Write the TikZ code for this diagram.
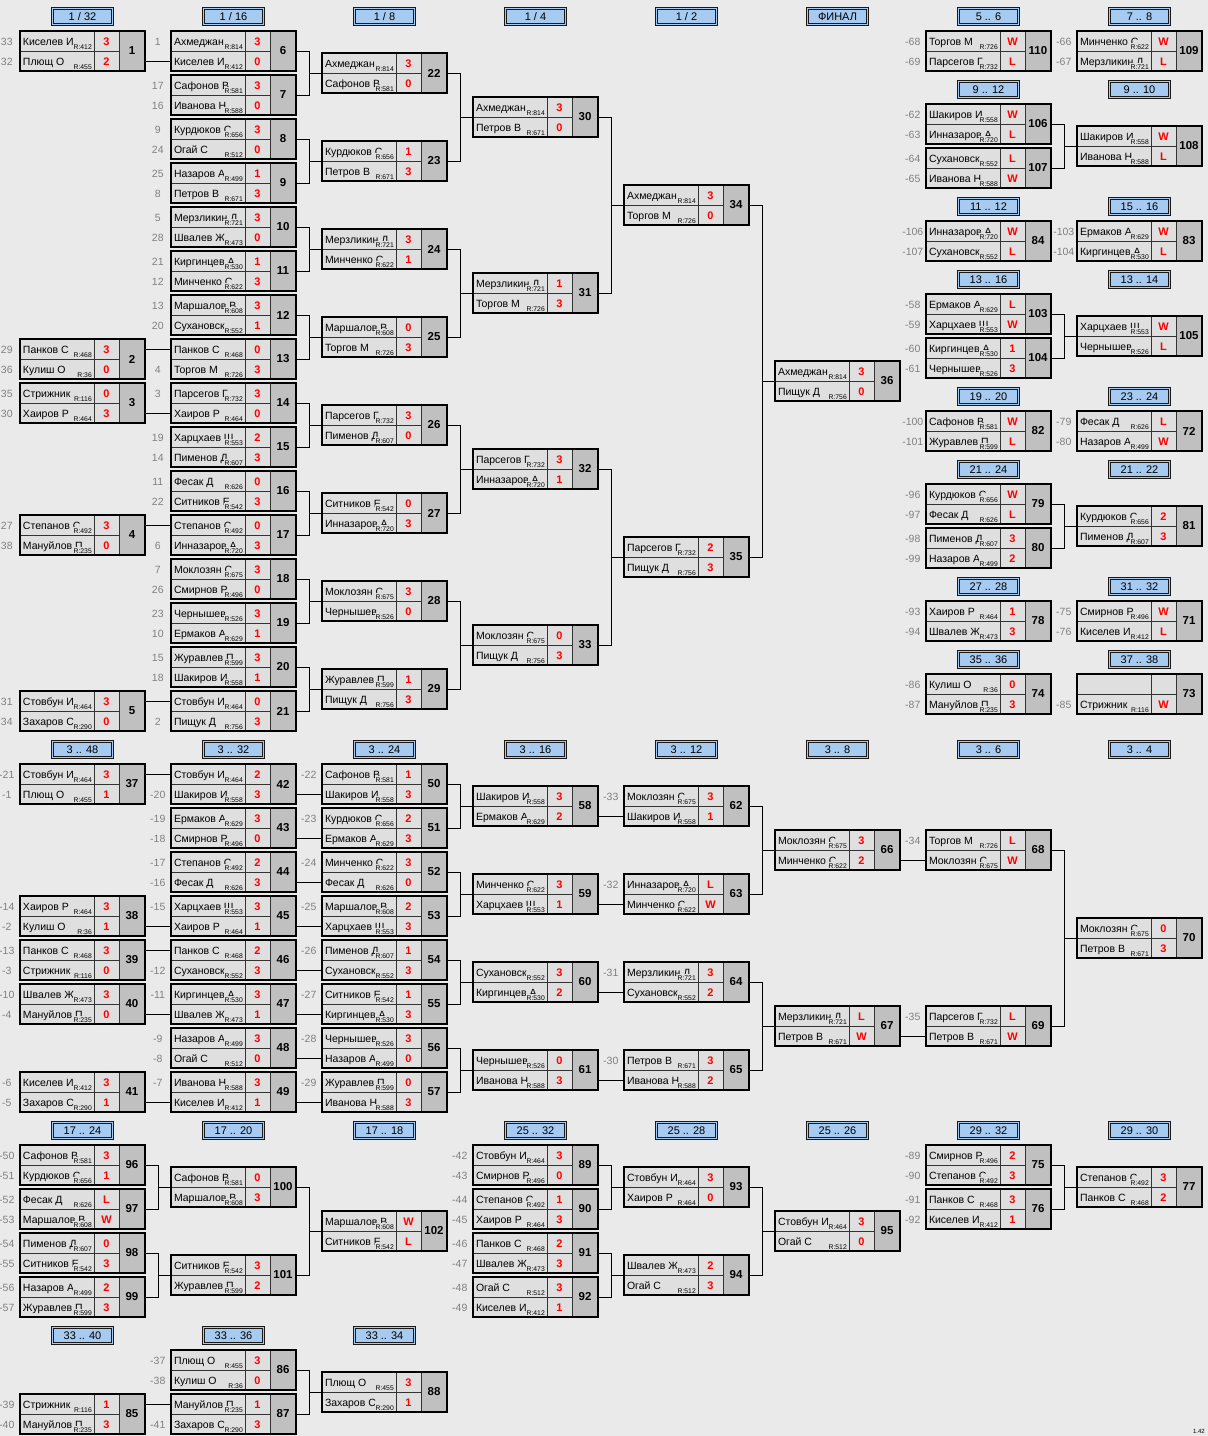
\documentclass[tikz,border=0pt]{standalone}
\usepackage{fontspec}
\setmainfont{Liberation Sans}
\definecolor{bgc}{HTML}{EAEAEA}
\definecolor{cellc}{HTML}{DFDFDF}
\definecolor{numc}{HTML}{C0C0C0}
\definecolor{hblue}{HTML}{A6CAF0}
\definecolor{seedc}{HTML}{808080}
\tikzset{
  gbox/.style={anchor=north west, minimum width=125pt, minimum height=40pt, inner sep=0pt, outer sep=0pt},
  gframe/.style={draw=black, line width=2pt},
  pname/.style={anchor=north west, draw=black!80, line width=0.6pt, fill=cellc, minimum width=74pt, minimum height=20pt, inner xsep=3pt, inner ysep=0pt, outer sep=0pt, text height=10pt, text depth=0.6pt, font=\fontsize{10.5}{12}\selectfont},
  prate/.style={anchor=south east, fill=cellc, inner xsep=1pt, inner ysep=0.8pt, text height=5pt, text depth=0pt, font=\fontsize{6.8}{7}\selectfont},
  pscore/.style={anchor=north west, draw=black!80, line width=0.6pt, fill=cellc, minimum width=25pt, minimum height=20pt, inner sep=0pt, outer sep=0pt, text height=10pt, text depth=0.6pt, text=red, font=\fontsize{11}{12}\selectfont\bfseries},
  pseed/.style={anchor=east, minimum width=24pt, inner sep=0pt, text height=10pt, text depth=0.6pt, text=seedc, font=\fontsize{10.5}{12}\selectfont},
  gnum/.style={anchor=north east, draw=black!80, line width=0.6pt, fill=numc, minimum width=26pt, minimum height=40pt, inner sep=0pt, outer sep=0pt, font=\fontsize{11.5}{13}\selectfont\bfseries},
  hdr/.style={draw=black!90, double=hblue, double distance=1.1pt, line width=0.9pt, fill=hblue, minimum width=60pt, minimum height=16pt, inner sep=0pt, font=\fontsize{11}{13}\selectfont},
  conn/.style={draw=black, line width=1pt},
}
% one player row: id, row, anchor, seed, name, rating, score
\newcommand{\prow}[7]{%
  \node[pname] (g#1#2) at (g#1.#3) {\makebox[68pt][l]{#5}};
  \node[prate] (g#1#2r) at ([xshift=-1pt,yshift=0.8pt]g#1#2.south east) {\ifx\relax#6\relax\else R:#6\fi};
  \node[pscore] (g#1#2s) at (g#1#2.north east) {#7};
  \node[pseed] (g#1#2k) at ([xshift=-1pt]g#1#2.west) {#4};
}
% one match: id, x, y, top row, bottom row
\newcommand{\game}[5]{%
  \node[gbox] (g#1) at (#2,#3) {};
  \prow{#1}{a}{north west}#4
  \prow{#1}{b}{west}#5
  \node[gnum] (g#1n) at (g#1.north east) {#1};
  \draw[gframe] (g#1.north west) rectangle (g#1.south east);
}
\begin{document}
\begin{tikzpicture}[x=1pt,y=-1pt]
\useasboundingbox (0,0) rectangle (1208,1436);
\fill[bgc] (0,0) rectangle (1208,1436);

\node[hdr] (s1) at (82.5,16.5) {1 / 32};
\node[hdr] (s2) at (233.5,16.5) {1 / 16};
\node[hdr] (s3) at (384.5,16.5) {1 / 8};
\node[hdr] (s4) at (535.5,16.5) {1 / 4};
\node[hdr] (s5) at (686.5,16.5) {1 / 2};
\node[hdr] (s6) at (837.5,16.5) {ФИНАЛ};
\foreach \x/\y/\t [count=\i] in {988.5/16.5/{5 .. 6}, 1139.5/16.5/{7 .. 8}, 988.5/89.5/{9 .. 12}, 1139.5/89.5/{9 .. 10},
    988.5/206.5/{11 .. 12}, 1139.5/206.5/{15 .. 16}, 988.5/279.5/{13 .. 16}, 1139.5/279.5/{13 .. 14},
    988.5/396.5/{19 .. 20}, 1139.5/396.5/{23 .. 24}, 988.5/469.5/{21 .. 24}, 1139.5/469.5/{21 .. 22},
    988.5/586.5/{27 .. 28}, 1139.5/586.5/{31 .. 32}, 988.5/659.5/{35 .. 36}, 1139.5/659.5/{37 .. 38},
    82.5/749.5/{3 .. 48}, 233.5/749.5/{3 .. 32}, 384.5/749.5/{3 .. 24}, 535.5/749.5/{3 .. 16},
    686.5/749.5/{3 .. 12}, 837.5/749.5/{3 .. 8}, 988.5/749.5/{3 .. 6}, 1139.5/749.5/{3 .. 4},
    82.5/1130.5/{17 .. 24}, 233.5/1130.5/{17 .. 20}, 384.5/1130.5/{17 .. 18}, 535.5/1130.5/{25 .. 32},
    686.5/1130.5/{25 .. 28}, 837.5/1130.5/{25 .. 26}, 988.5/1130.5/{29 .. 32}, 1139.5/1130.5/{29 .. 30},
    82.5/1335.5/{33 .. 40}, 233.5/1335.5/{33 .. 36}, 384.5/1335.5/{33 .. 34}}
  \node[hdr] (r\i) at (\x,\y) {\t};

\game{1}{20}{31}{{33}{Киселев И}{412}{3}}{{32}{Плющ О}{455}{2}}
\game{2}{20}{339}{{29}{Панков С}{468}{3}}{{36}{Кулиш О}{36}{0}}
\game{3}{20}{383}{{35}{Стрижник}{116}{0}}{{30}{Хаиров Р}{464}{3}}
\game{4}{20}{515}{{27}{Степанов С}{492}{3}}{{38}{Мануйлов П}{235}{0}}
\game{5}{20}{691}{{31}{Стовбун И}{464}{3}}{{34}{Захаров С}{290}{0}}
\game{6}{171}{31}{{1}{Ахмеджан}{814}{3}}{{}{Киселев И}{412}{0}}
\game{7}{171}{75}{{17}{Сафонов В}{581}{3}}{{16}{Иванова Н}{588}{0}}
\game{8}{171}{119}{{9}{Курдюков С}{656}{3}}{{24}{Огай С}{512}{0}}
\game{9}{171}{163}{{25}{Назаров А}{499}{1}}{{8}{Петров В}{671}{3}}
\game{10}{171}{207}{{5}{Мерзликин Д}{721}{3}}{{28}{Швалев Ж}{473}{0}}
\game{11}{171}{251}{{21}{Киргинцев А}{530}{1}}{{12}{Минченко С}{622}{3}}
\game{12}{171}{295}{{13}{Маршалов В}{608}{3}}{{20}{Сухановск}{552}{1}}
\game{13}{171}{339}{{}{Панков С}{468}{0}}{{4}{Торгов М}{726}{3}}
\game{14}{171}{383}{{3}{Парсегов Г}{732}{3}}{{}{Хаиров Р}{464}{0}}
\game{15}{171}{427}{{19}{Харцхаев Ш}{553}{2}}{{14}{Пименов Д}{607}{3}}
\game{16}{171}{471}{{11}{Фесак Д}{626}{0}}{{22}{Ситников Е}{542}{3}}
\game{17}{171}{515}{{}{Степанов С}{492}{0}}{{6}{Инназаров А}{720}{3}}
\game{18}{171}{559}{{7}{Моклозян С}{675}{3}}{{26}{Смирнов Р}{496}{0}}
\game{19}{171}{603}{{23}{Чернышев}{526}{3}}{{10}{Ермаков А}{629}{1}}
\game{20}{171}{647}{{15}{Журавлев П}{599}{3}}{{18}{Шакиров И}{558}{1}}
\game{21}{171}{691}{{}{Стовбун И}{464}{0}}{{2}{Пищук Д}{756}{3}}
\game{22}{322}{53}{{}{Ахмеджан}{814}{3}}{{}{Сафонов В}{581}{0}}
\game{23}{322}{141}{{}{Курдюков С}{656}{1}}{{}{Петров В}{671}{3}}
\game{24}{322}{229}{{}{Мерзликин Д}{721}{3}}{{}{Минченко С}{622}{1}}
\game{25}{322}{317}{{}{Маршалов В}{608}{0}}{{}{Торгов М}{726}{3}}
\game{26}{322}{405}{{}{Парсегов Г}{732}{3}}{{}{Пименов Д}{607}{0}}
\game{27}{322}{493}{{}{Ситников Е}{542}{0}}{{}{Инназаров А}{720}{3}}
\game{28}{322}{581}{{}{Моклозян С}{675}{3}}{{}{Чернышев}{526}{0}}
\game{29}{322}{669}{{}{Журавлев П}{599}{1}}{{}{Пищук Д}{756}{3}}
\game{30}{473}{97}{{}{Ахмеджан}{814}{3}}{{}{Петров В}{671}{0}}
\game{31}{473}{273}{{}{Мерзликин Д}{721}{1}}{{}{Торгов М}{726}{3}}
\game{32}{473}{449}{{}{Парсегов Г}{732}{3}}{{}{Инназаров А}{720}{1}}
\game{33}{473}{625}{{}{Моклозян С}{675}{0}}{{}{Пищук Д}{756}{3}}
\game{34}{624}{185}{{}{Ахмеджан}{814}{3}}{{}{Торгов М}{726}{0}}
\game{35}{624}{537}{{}{Парсегов Г}{732}{2}}{{}{Пищук Д}{756}{3}}
\game{36}{775}{361}{{}{Ахмеджан}{814}{3}}{{}{Пищук Д}{756}{0}}

\game{110}{926}{31}{{-68}{Торгов М}{726}{W}}{{-69}{Парсегов Г}{732}{L}}
\game{109}{1077}{31}{{-66}{Минченко С}{622}{W}}{{-67}{Мерзликин Д}{721}{L}}
\game{106}{926}{104}{{-62}{Шакиров И}{558}{W}}{{-63}{Инназаров А}{720}{L}}
\game{107}{926}{148}{{-64}{Сухановск}{552}{L}}{{-65}{Иванова Н}{588}{W}}
\game{108}{1077}{126}{{}{Шакиров И}{558}{W}}{{}{Иванова Н}{588}{L}}
\game{84}{926}{221}{{-106}{Инназаров А}{720}{W}}{{-107}{Сухановск}{552}{L}}
\game{83}{1077}{221}{{-103}{Ермаков А}{629}{W}}{{-104}{Киргинцев А}{530}{L}}
\game{103}{926}{294}{{-58}{Ермаков А}{629}{L}}{{-59}{Харцхаев Ш}{553}{W}}
\game{104}{926}{338}{{-60}{Киргинцев А}{530}{1}}{{-61}{Чернышев}{526}{3}}
\game{105}{1077}{316}{{}{Харцхаев Ш}{553}{W}}{{}{Чернышев}{526}{L}}
\game{82}{926}{411}{{-100}{Сафонов В}{581}{W}}{{-101}{Журавлев П}{599}{L}}
\game{72}{1077}{411}{{-79}{Фесак Д}{626}{L}}{{-80}{Назаров А}{499}{W}}
\game{79}{926}{484}{{-96}{Курдюков С}{656}{W}}{{-97}{Фесак Д}{626}{L}}
\game{80}{926}{528}{{-98}{Пименов Д}{607}{3}}{{-99}{Назаров А}{499}{2}}
\game{81}{1077}{506}{{}{Курдюков С}{656}{2}}{{}{Пименов Д}{607}{3}}
\game{78}{926}{601}{{-93}{Хаиров Р}{464}{1}}{{-94}{Швалев Ж}{473}{3}}
\game{71}{1077}{601}{{-75}{Смирнов Р}{496}{W}}{{-76}{Киселев И}{412}{L}}
\game{74}{926}{674}{{-86}{Кулиш О}{36}{0}}{{-87}{Мануйлов П}{235}{3}}
\game{73}{1077}{674}{{}{}{}{}}{{-85}{Стрижник}{116}{W}}

\game{37}{20}{764}{{-21}{Стовбун И}{464}{3}}{{-1}{Плющ О}{455}{1}}
\game{38}{20}{896}{{-14}{Хаиров Р}{464}{3}}{{-2}{Кулиш О}{36}{1}}
\game{39}{20}{940}{{-13}{Панков С}{468}{3}}{{-3}{Стрижник}{116}{0}}
\game{40}{20}{984}{{-10}{Швалев Ж}{473}{3}}{{-4}{Мануйлов П}{235}{0}}
\game{41}{20}{1072}{{-6}{Киселев И}{412}{3}}{{-5}{Захаров С}{290}{1}}
\game{42}{171}{764}{{}{Стовбун И}{464}{2}}{{-20}{Шакиров И}{558}{3}}
\game{43}{171}{808}{{-19}{Ермаков А}{629}{3}}{{-18}{Смирнов Р}{496}{0}}
\game{44}{171}{852}{{-17}{Степанов С}{492}{2}}{{-16}{Фесак Д}{626}{3}}
\game{45}{171}{896}{{-15}{Харцхаев Ш}{553}{3}}{{}{Хаиров Р}{464}{1}}
\game{46}{171}{940}{{}{Панков С}{468}{2}}{{-12}{Сухановск}{552}{3}}
\game{47}{171}{984}{{-11}{Киргинцев А}{530}{3}}{{}{Швалев Ж}{473}{1}}
\game{48}{171}{1028}{{-9}{Назаров А}{499}{3}}{{-8}{Огай С}{512}{0}}
\game{49}{171}{1072}{{-7}{Иванова Н}{588}{3}}{{}{Киселев И}{412}{1}}
\game{50}{322}{764}{{-22}{Сафонов В}{581}{1}}{{}{Шакиров И}{558}{3}}
\game{51}{322}{808}{{-23}{Курдюков С}{656}{2}}{{}{Ермаков А}{629}{3}}
\game{52}{322}{852}{{-24}{Минченко С}{622}{3}}{{}{Фесак Д}{626}{0}}
\game{53}{322}{896}{{-25}{Маршалов В}{608}{2}}{{}{Харцхаев Ш}{553}{3}}
\game{54}{322}{940}{{-26}{Пименов Д}{607}{1}}{{}{Сухановск}{552}{3}}
\game{55}{322}{984}{{-27}{Ситников Е}{542}{1}}{{}{Киргинцев А}{530}{3}}
\game{56}{322}{1028}{{-28}{Чернышев}{526}{3}}{{}{Назаров А}{499}{0}}
\game{57}{322}{1072}{{-29}{Журавлев П}{599}{0}}{{}{Иванова Н}{588}{3}}
\game{58}{473}{786}{{}{Шакиров И}{558}{3}}{{}{Ермаков А}{629}{2}}
\game{59}{473}{874}{{}{Минченко С}{622}{3}}{{}{Харцхаев Ш}{553}{1}}
\game{60}{473}{962}{{}{Сухановск}{552}{3}}{{}{Киргинцев А}{530}{2}}
\game{61}{473}{1050}{{}{Чернышев}{526}{0}}{{}{Иванова Н}{588}{3}}
\game{62}{624}{786}{{-33}{Моклозян С}{675}{3}}{{}{Шакиров И}{558}{1}}
\game{63}{624}{874}{{-32}{Инназаров А}{720}{L}}{{}{Минченко С}{622}{W}}
\game{64}{624}{962}{{-31}{Мерзликин Д}{721}{3}}{{}{Сухановск}{552}{2}}
\game{65}{624}{1050}{{-30}{Петров В}{671}{3}}{{}{Иванова Н}{588}{2}}
\game{66}{775}{830}{{}{Моклозян С}{675}{3}}{{}{Минченко С}{622}{2}}
\game{67}{775}{1006}{{}{Мерзликин Д}{721}{L}}{{}{Петров В}{671}{W}}
\game{68}{926}{830}{{-34}{Торгов М}{726}{L}}{{}{Моклозян С}{675}{W}}
\game{69}{926}{1006}{{-35}{Парсегов Г}{732}{L}}{{}{Петров В}{671}{W}}
\game{70}{1077}{918}{{}{Моклозян С}{675}{0}}{{}{Петров В}{671}{3}}

\game{96}{20}{1145}{{-50}{Сафонов В}{581}{3}}{{-51}{Курдюков С}{656}{1}}
\game{97}{20}{1189}{{-52}{Фесак Д}{626}{L}}{{-53}{Маршалов В}{608}{W}}
\game{98}{20}{1233}{{-54}{Пименов Д}{607}{0}}{{-55}{Ситников Е}{542}{3}}
\game{99}{20}{1277}{{-56}{Назаров А}{499}{2}}{{-57}{Журавлев П}{599}{3}}
\game{100}{171}{1167}{{}{Сафонов В}{581}{0}}{{}{Маршалов В}{608}{3}}
\game{101}{171}{1255}{{}{Ситников Е}{542}{3}}{{}{Журавлев П}{599}{2}}
\game{102}{322}{1211}{{}{Маршалов В}{608}{W}}{{}{Ситников Е}{542}{L}}
\game{89}{473}{1145}{{-42}{Стовбун И}{464}{3}}{{-43}{Смирнов Р}{496}{0}}
\game{90}{473}{1189}{{-44}{Степанов С}{492}{1}}{{-45}{Хаиров Р}{464}{3}}
\game{91}{473}{1233}{{-46}{Панков С}{468}{2}}{{-47}{Швалев Ж}{473}{3}}
\game{92}{473}{1277}{{-48}{Огай С}{512}{3}}{{-49}{Киселев И}{412}{1}}
\game{93}{624}{1167}{{}{Стовбун И}{464}{3}}{{}{Хаиров Р}{464}{0}}
\game{94}{624}{1255}{{}{Швалев Ж}{473}{2}}{{}{Огай С}{512}{3}}
\game{95}{775}{1211}{{}{Стовбун И}{464}{3}}{{}{Огай С}{512}{0}}
\game{75}{926}{1145}{{-89}{Смирнов Р}{496}{2}}{{-90}{Степанов С}{492}{3}}
\game{76}{926}{1189}{{-91}{Панков С}{468}{3}}{{-92}{Киселев И}{412}{1}}
\game{77}{1077}{1167}{{}{Степанов С}{492}{3}}{{}{Панков С}{468}{2}}

\game{85}{20}{1394}{{-39}{Стрижник}{116}{1}}{{-40}{Мануйлов П}{235}{3}}
\game{86}{171}{1350}{{-37}{Плющ О}{455}{3}}{{-38}{Кулиш О}{36}{0}}
\game{87}{171}{1394}{{}{Мануйлов П}{235}{1}}{{-41}{Захаров С}{290}{3}}
\game{88}{322}{1372}{{}{Плющ О}{455}{3}}{{}{Захаров С}{290}{1}}

\foreach \a/\b/\c in {6/7/22, 8/9/23, 10/11/24, 12/13/25, 14/15/26, 16/17/27, 18/19/28, 20/21/29,
    22/23/30, 24/25/31, 26/27/32, 28/29/33, 30/31/34, 32/33/35, 34/35/36,
    106/107/108, 103/104/105, 79/80/81,
    50/51/58, 52/53/59, 54/55/60, 56/57/61, 62/63/66, 64/65/67, 68/69/70,
    96/97/100, 98/99/101, 100/101/102, 89/90/93, 91/92/94, 93/94/95, 75/76/77, 86/87/88}
  \draw[conn] (g\a.east) -- ++(13,0) |- (g\c.west) (g\b.east) -- ++(13,0) |- (g\c.west);
\foreach \a/\c in {1/6b, 2/13a, 3/14b, 4/17a, 5/21a,
    37/42a, 38/45b, 39/46a, 40/47b, 41/49b, 42/50b, 43/51b, 44/52b, 45/53b, 46/54b, 47/55b, 48/56b, 49/57b,
    58/62b, 59/63b, 60/64b, 61/65b, 66/68b, 67/69b, 85/87a}
  \draw[conn] (g\a.east |- g\c) -- (g\c.west);

\node[anchor=south east, inner sep=0pt, font=\fontsize{6}{7}\selectfont] (ver) at (1205,1434) {1.42};
\end{tikzpicture}
\end{document}
